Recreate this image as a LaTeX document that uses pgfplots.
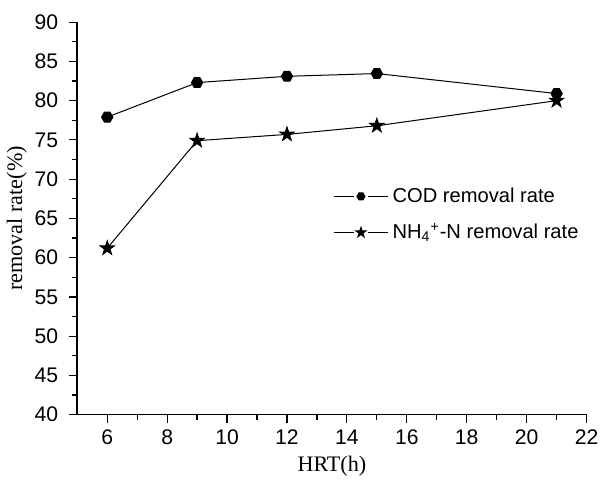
\documentclass[border=0pt]{standalone}
\usepackage{fontspec}
\setmainfont{Liberation Serif}
\newfontfamily\arial{Liberation Sans}
\usepackage{pgfplots}
\pgfplotsset{compat=1.18}

% filled hexagon and filled star marks
\pgfdeclareplotmark{hexa}{%
  \pgfpathmoveto{\pgfpointpolar{0}{\pgfplotmarksize}}%
  \pgfpathlineto{\pgfpointpolar{60}{\pgfplotmarksize}}%
  \pgfpathlineto{\pgfpointpolar{120}{\pgfplotmarksize}}%
  \pgfpathlineto{\pgfpointpolar{180}{\pgfplotmarksize}}%
  \pgfpathlineto{\pgfpointpolar{240}{\pgfplotmarksize}}%
  \pgfpathlineto{\pgfpointpolar{300}{\pgfplotmarksize}}%
  \pgfpathclose\pgfusepathqfillstroke}
\pgfdeclareplotmark{fstar}{%
  \pgfpathmoveto{\pgfpointpolar{90}{1.3\pgfplotmarksize}}%
  \pgfpathlineto{\pgfpointpolar{126}{0.5\pgfplotmarksize}}%
  \pgfpathlineto{\pgfpointpolar{162}{1.3\pgfplotmarksize}}%
  \pgfpathlineto{\pgfpointpolar{198}{0.5\pgfplotmarksize}}%
  \pgfpathlineto{\pgfpointpolar{234}{1.3\pgfplotmarksize}}%
  \pgfpathlineto{\pgfpointpolar{270}{0.5\pgfplotmarksize}}%
  \pgfpathlineto{\pgfpointpolar{306}{1.3\pgfplotmarksize}}%
  \pgfpathlineto{\pgfpointpolar{342}{0.5\pgfplotmarksize}}%
  \pgfpathlineto{\pgfpointpolar{18}{1.3\pgfplotmarksize}}%
  \pgfpathlineto{\pgfpointpolar{54}{0.5\pgfplotmarksize}}%
  \pgfpathclose\pgfusepathqfillstroke}

\begin{document}
\begin{tikzpicture}
\begin{axis}[
    name=main,
    scale only axis,
    width=253pt, height=195pt,
    xmin=5, xmax=22, ymin=40, ymax=90,
    xtick={6,8,...,22}, ytick={40,45,...,90},
    minor x tick num=1, minor y tick num=1,
    axis x line*=bottom, axis y line*=left,
    axis line style={-, line width=0.8pt},
    tick align=outside,
    major tick length=4pt, minor tick length=2.5pt,
    tick style={black, line width=0.6pt},
    ticklabel style={font=\arial\fontsize{10.5}{12}\selectfont},
    yticklabel style={xshift=-2pt},
    /pgf/number format/assume math mode=true,
    xlabel={HRT(h)}, ylabel={removal rate(\%)},
    label style={font=\fontsize{11}{13}\selectfont},
    xlabel style={yshift=1pt},
    ylabel style={yshift=-3pt},
    legend style={draw=none, fill=none, at={(0.49,0.6)}, anchor=north west,
        font=\arial\fontsize{10}{12}\selectfont, row sep=5pt},
    legend cell align=left,
    legend image code/.code={
        \draw[#1, mark=none] (0pt,0pt) -- (10pt,0pt);
        \draw[#1, mark=none] (17pt,0pt) -- (27pt,0pt);
        \draw[#1, only marks, mark size=2pt] plot coordinates {(13.5pt,0pt)};
    },
]
\addplot[black, line width=0.5pt, mark=hexa, mark size=2.8pt, mark options={fill=black}] coordinates {
    (6,77.9) (9,82.3) (12,83.1) (15,83.45) (21,80.9)
};
\addlegendentry{COD removal rate}
\addplot[black, line width=0.5pt, mark=fstar, mark size=2.8pt, mark options={fill=black}] coordinates {
    (6,61.2) (9,74.9) (12,75.7) (15,76.8) (21,80.0)
};
\addlegendentry{NH\textsubscript{4}\textsuperscript{+}-N removal rate}
\end{axis}
% white space above the plot, as in the original
\path (main.north west) ++(0,11pt);
\end{tikzpicture}
\end{document}
